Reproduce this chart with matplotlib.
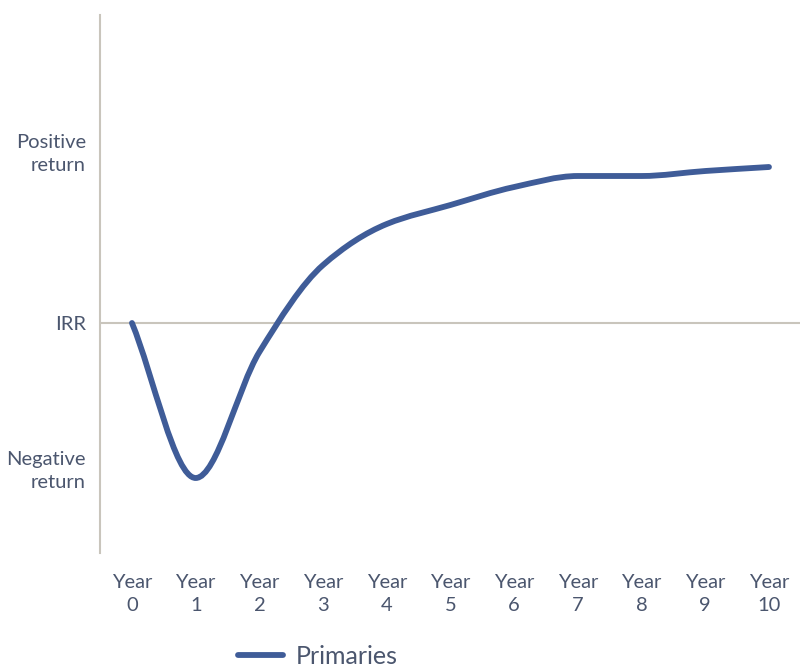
import matplotlib
matplotlib.use("Agg")
import matplotlib.pyplot as plt
from matplotlib.path import Path
from matplotlib.patches import PathPatch
from matplotlib.lines import Line2D
import numpy as np

plt.rcParams['font.family'] = ['Lato', 'DejaVu Sans']

# J-curve of a primaries programme, relative to IRR (0)
years = [0, 1, 2, 3, 4, 5, 6, 7, 8, 9, 10]
returns = [0.0, -1.55, -0.29, 0.58, 0.99, 1.18, 1.36, 1.47, 1.47, 1.52, 1.56]
year_labels = ['Year\n%d' % y for y in years]
y_ticks = [1.74, 0.0, -1.43]
y_labels = ['Positive\nreturn', 'IRR', 'Negative\nreturn']
series_name = 'Primaries'

line_col = '#3f5c98'
grey = '#c9c5bc'
text_col = '#4b566e'


def monotone_path(x, y):
    # cubic bezier path with monotone (Fritsch-Carlson) tangents
    x = np.asarray(x, float)
    y = np.asarray(y, float)
    h = np.diff(x)
    d = np.diff(y) / h
    m = np.zeros_like(y)
    m[0], m[-1] = d[0], d[-1]
    for i in range(1, len(y) - 1):
        if d[i - 1] * d[i] <= 0:
            m[i] = 0
        else:
            m[i] = 2 / (1 / d[i - 1] + 1 / d[i])
    verts = [(x[0], y[0])]
    codes = [Path.MOVETO]
    for i in range(len(x) - 1):
        verts += [(x[i] + h[i] / 3, y[i] + m[i] * h[i] / 3),
                  (x[i + 1] - h[i] / 3, y[i + 1] - m[i + 1] * h[i] / 3),
                  (x[i + 1], y[i + 1])]
        codes += [Path.CURVE4] * 3
    return Path(verts, codes)


fig = plt.figure(figsize=(8.06, 6.69), dpi=100)
ax = fig.add_axes([100 / 806, 116 / 669, 700 / 806, 538 / 669])

ax.axhline(0, color=grey, lw=1.5, zorder=1)
patch = PathPatch(monotone_path(years, returns), facecolor='none',
                  edgecolor=line_col, lw=4.2, capstyle='round', zorder=3)
ax.add_patch(patch)

ax.set_xlim(-0.502, 10.487)
ax.set_ylim(-2.30, 3.08)

for s in ['top', 'right', 'bottom']:
    ax.spines[s].set_visible(False)
ax.spines['left'].set_color(grey)
ax.spines['left'].set_linewidth(1.5)

ax.set_xticks(years)
ax.set_xticklabels(year_labels, fontsize=14.5, color=text_col, linespacing=1.45)
ax.set_yticks(y_ticks)
ax.set_yticklabels(y_labels, fontsize=14.5, color=text_col, linespacing=1.45)
ax.tick_params(axis='both', length=0)
ax.tick_params(axis='x', pad=15)
ax.tick_params(axis='y', pad=10)

handle = Line2D([], [], color=line_col, lw=4.2, solid_capstyle='round')
fig.legend([handle], [series_name], loc='center left',
           bbox_to_anchor=(221 / 806, 1 - 656 / 669), frameon=False,
           fontsize=18, handlelength=1.8, handletextpad=0.5,
           labelcolor=text_col, borderpad=0.2)

fig.savefig('out.png', dpi=100)
